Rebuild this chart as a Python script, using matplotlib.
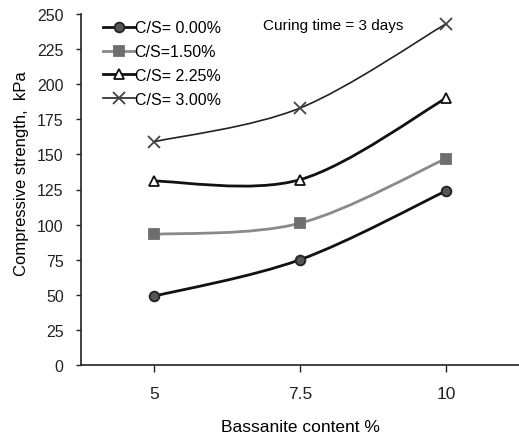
import numpy as np
import matplotlib
matplotlib.use("Agg")
import matplotlib.pyplot as plt
from matplotlib.path import Path
from matplotlib.patches import PathPatch
from matplotlib.lines import Line2D

plt.rcParams['font.family'] = ['Liberation Sans Narrow', 'Liberation Sans', 'DejaVu Sans']

# ── Data ──────────────────────────────────────────────────────────────
bassanite = ["5", "7.5", "10"]
cs_000 = [49, 75, 124]
cs_150 = [93, 101, 147]
cs_225 = [131, 132, 190]
cs_300 = [159, 183, 243]
labels = ["C/S= 0.00%", "C/S=1.50%", "C/S= 2.25%", "C/S= 3.00%"]

# style per series: line colour, line width, marker, marker face, marker edge, marker size
styles = [
    ("#111111", 2.0, "o", "#555555", "#222222", 7),
    ("#8a8a8a", 2.0, "s", "#6e6e6e", "#6e6e6e", 7),
    ("#111111", 2.0, "^", "white", "#111111", 7),
    ("#222222", 1.2, "x", "none", "#444444", 8),
]


def smooth_path(x, y):
    """Excel-like smoothed line: Catmull-Rom segments as cubic Bezier curves."""
    pts = np.column_stack([x, y]).astype(float)
    ext = np.vstack([pts[0], pts, pts[-1]])
    verts = [tuple(pts[0])]
    codes = [Path.MOVETO]
    for i in range(1, len(ext) - 2):
        p0, p1, p2, p3 = ext[i - 1], ext[i], ext[i + 1], ext[i + 2]
        c1 = p1 + (p2 - p0) / 6
        c2 = p2 - (p3 - p1) / 6
        verts += [tuple(c1), tuple(c2), tuple(p2)]
        codes += [Path.CURVE4] * 3
    return Path(verts, codes)


fig = plt.figure(figsize=(5.19, 4.39), dpi=100)
ax = fig.add_axes([81 / 519, 73 / 439, 438 / 519, 351 / 439])

xpos = np.arange(1, len(bassanite) + 1)
handles = []
for vals, lab, (lc, lw, mk, mfc, mec, ms) in zip([cs_000, cs_150, cs_225, cs_300], labels, styles):
    ax.add_patch(PathPatch(smooth_path(xpos, vals), fill=False, edgecolor=lc, lw=lw, zorder=2))
    ax.plot(xpos, vals, linestyle="none", marker=mk, markerfacecolor=mfc,
            markeredgecolor=mec, markersize=ms, markeredgewidth=1.3, zorder=3)
    handles.append(Line2D([], [], color=lc, lw=lw, marker=mk, markerfacecolor=mfc,
                          markeredgecolor=mec, markersize=ms, markeredgewidth=1.3, label=lab))

ax.set_xlim(0.5, 3.5)
ax.set_ylim(0, 250)
ax.set_xticks(xpos)
ax.set_xticklabels(bassanite)
ax.set_yticks(np.arange(0, 251, 25))
ax.tick_params(axis="both", direction="out", width=1, colors="#222222")
ax.tick_params(axis="x", labelsize=12.5, length=5, pad=10)
ax.tick_params(axis="y", labelsize=11.5, length=3.5, pad=9)

for s in ["top", "right"]:
    ax.spines[s].set_visible(False)
for s in ["left", "bottom"]:
    ax.spines[s].set_linewidth(1.2)
    ax.spines[s].set_color("#222222")

ax.set_xlabel("Bassanite content %", fontsize=12.5)
ax.xaxis.set_label_coords(0.5, -0.155)
ax.set_ylabel("Compressive strength,  kPa", fontsize=12)
ax.yaxis.set_label_coords(-0.119, 0.547)

ax.legend(handles=handles, loc="upper left", bbox_to_anchor=(0.035, 1.0), frameon=False,
          fontsize=11.5, handlelength=2.0, handletextpad=0.0, labelspacing=0.55, borderaxespad=0)
ax.text(0.415, 0.968, "Curing time = 3 days", transform=ax.transAxes, fontsize=11,
        ha="left", va="center")

fig.savefig("out.png", dpi=100)
